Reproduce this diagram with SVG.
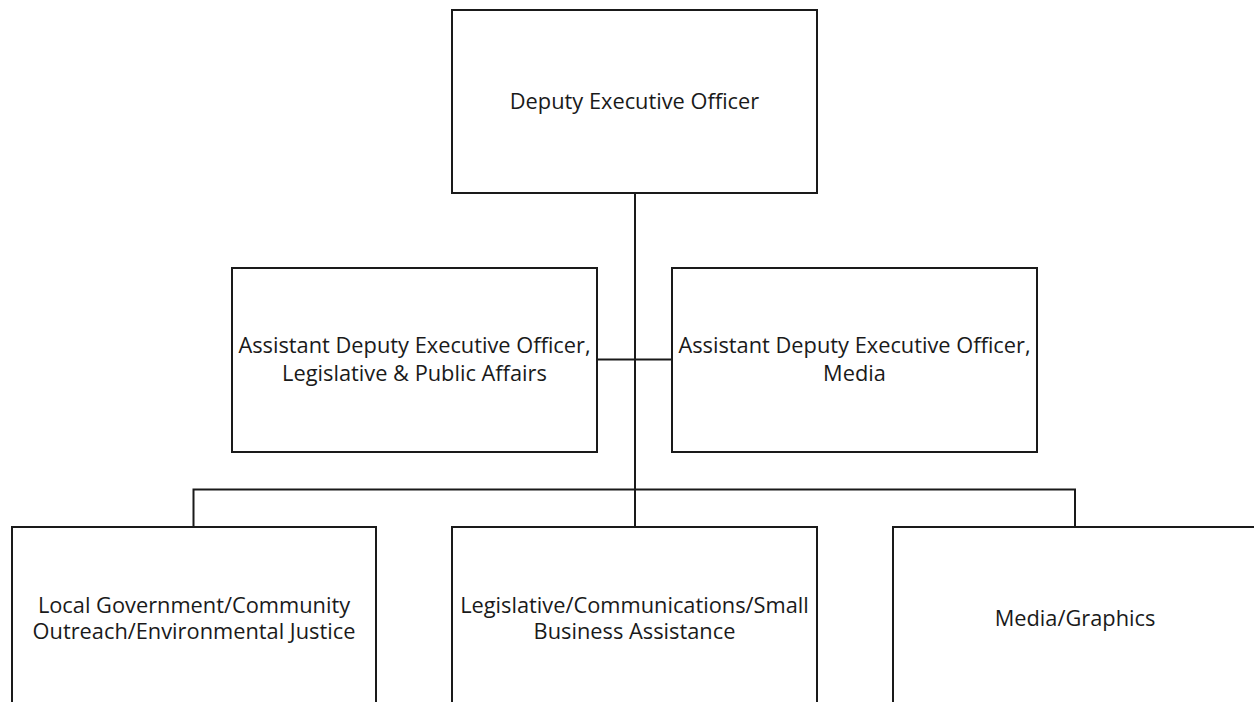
<svg xmlns="http://www.w3.org/2000/svg" width="1254" height="702" viewBox="0 0 1254 702">
<style>
.box{fill:#fff;stroke:#1a1a1a;stroke-width:2}
.ln{fill:none;stroke:#1a1a1a;stroke-width:2}
text{font-family:"Open Sans","Liberation Sans",sans-serif;font-size:21.8px;fill:#1a1a1a;text-anchor:middle}
</style>
<rect width="1254" height="702" fill="#fff"/>
<g id="connectors">
<line class="ln" x1="635" y1="193" x2="635" y2="490"/>
<line class="ln" x1="597" y1="359.5" x2="672" y2="359.5"/>
<polyline class="ln" points="193.5,527 193.5,489.5 1075,489.5 1075,527"/>
<line class="ln" x1="635" y1="489" x2="635" y2="527"/>
</g>
<g id="n1"><rect class="box" x="452" y="10" width="365" height="183"/><text x="634.5" y="109">Deputy Executive Officer</text></g>
<g id="n2"><rect class="box" x="232" y="268" width="365" height="184"/><text x="414.5" y="353">Assistant Deputy Executive Officer,</text><text x="414.5" y="380.5">Legislative &amp; Public Affairs</text></g>
<g id="n3"><rect class="box" x="672" y="268" width="365" height="184"/><text x="854.5" y="353">Assistant Deputy Executive Officer,</text><text x="854.5" y="380.5">Media</text></g>
<g id="n4"><rect class="box" x="12" y="527" width="364" height="190"/><text x="194" y="612.5">Local Government/Community</text><text x="194" y="639">Outreach/Environmental Justice</text></g>
<g id="n5"><rect class="box" x="452" y="527" width="365" height="190"/><text x="634.5" y="612.5">Legislative/Communications/Small</text><text x="634.5" y="639">Business Assistance</text></g>
<g id="n6"><rect class="box" x="893" y="527" width="365" height="190"/><text x="1075" y="625.5">Media/Graphics</text></g>
</svg>
